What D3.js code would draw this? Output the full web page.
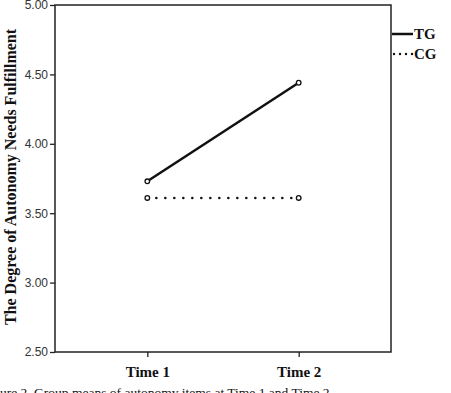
<!DOCTYPE html>
<html>
<head>
<meta charset="utf-8">
<script src="https://cdn.jsdelivr.net/npm/d3@7"></script>
<style>
  body { margin: 0; background: #fff; }
  svg { display: block; }
</style>
</head>
<body>
<div id="chart"></div>
<script>
// group means
var times = ["Time 1", "Time 2"];
var groups = ["TG", "CG"];
var tgMeans = [3.73, 4.44];
var cgMeans = [3.61, 3.61];
var yTicks = [2.5, 3.0, 3.5, 4.0, 4.5, 5.0];

var width = 451, height = 393;
var margin = {top: 5, right: 60, bottom: 42, left: 55};

var svg = d3.select("#chart").append("svg")
    .attr("width", width)
    .attr("height", height);

var x = d3.scalePoint()
    .domain(times)
    .range([margin.left, width - margin.right])
    .padding(0.61);

var y = d3.scaleLinear()
    .domain([2.5, 5.0])
    .range([height - margin.bottom + 1, margin.top]);

// frame
svg.append("rect")
    .attr("x", margin.left)
    .attr("y", y(5))
    .attr("width", width - margin.right - margin.left)
    .attr("height", y(2.5) - y(5))
    .attr("fill", "none")
    .attr("stroke", "#222")
    .attr("stroke-width", 1.5);

var yAxis = svg.append("g")
    .attr("transform", "translate(" + margin.left + ",0)")
    .call(d3.axisLeft(y).tickValues(yTicks).tickFormat(d3.format(".2f")).tickSize(5).tickSizeOuter(0));
yAxis.select(".domain").remove();
yAxis.selectAll("line").attr("stroke", "#222").attr("stroke-width", 1.3);
yAxis.selectAll("text")
    .attr("font-family", "Liberation Sans, Arial, sans-serif")
    .attr("font-size", 12)
    .attr("fill", "#333")
    .attr("dx", 1);

var xAxis = svg.append("g")
    .attr("transform", "translate(0," + y(2.5) + ")")
    .call(d3.axisBottom(x).tickSize(5).tickSizeOuter(0));
xAxis.select(".domain").remove();
xAxis.selectAll("line").attr("stroke", "#222").attr("stroke-width", 1.3);
xAxis.selectAll("text")
    .attr("font-family", "Liberation Serif, Times New Roman, serif")
    .attr("font-weight", "bold")
    .attr("font-size", 15)
    .attr("fill", "#111")
    .attr("dy", "1.1em");

// y title
svg.append("text")
    .attr("transform", "translate(16," + 177 + ") rotate(-90)")
    .attr("text-anchor", "middle")
    .attr("font-family", "Liberation Serif, Times New Roman, serif")
    .attr("font-weight", "bold")
    .attr("font-size", 16)
    .attr("fill", "#111")
    .text("The Degree of Autonomy Needs Fulfillment");

var line = d3.line()
    .x(function(d, i) { return x(times[i]); })
    .y(function(d) { return y(d); });

svg.append("path")
    .datum(tgMeans)
    .attr("d", line)
    .attr("fill", "none")
    .attr("stroke", "#111")
    .attr("stroke-width", 2.5);

svg.append("path")
    .datum(cgMeans)
    .attr("d", line)
    .attr("fill", "none")
    .attr("stroke", "#111")
    .attr("stroke-width", 2.6)
    .attr("stroke-linecap", "round")
    .attr("stroke-dasharray", "0,9");

[tgMeans, cgMeans].forEach(function(series) {
  svg.append("g").selectAll("circle")
    .data(series)
    .enter().append("circle")
      .attr("cx", function(d, i) { return x(times[i]); })
      .attr("cy", function(d) { return y(d); })
      .attr("r", 2.3)
      .attr("fill", "#fff")
      .attr("stroke", "#111")
      .attr("stroke-width", 1.3);
});

// legend
var lx = width - margin.right;
var legend = svg.append("g").selectAll("g")
    .data(groups)
    .enter().append("g")
    .attr("transform", function(d, i) { return "translate(" + lx + "," + (34 + i * 20) + ")"; });

legend.append("line")
    .attr("x1", 1).attr("x2", 22)
    .attr("stroke", "#111")
    .attr("stroke-width", function(d, i) { return i == 0 ? 2.5 : 2.4; })
    .attr("stroke-linecap", function(d, i) { return i == 0 ? "butt" : "round"; })
    .attr("stroke-dasharray", function(d, i) { return i == 0 ? null : "0,6"; })
    .attr("transform", function(d, i) { return i == 0 ? null : "translate(2,0)"; });

legend.append("text")
    .attr("x", 23)
    .attr("dy", "0.35em")
    .attr("font-family", "Liberation Serif, Times New Roman, serif")
    .attr("font-weight", "bold")
    .attr("font-size", 15)
    .attr("fill", "#111")
    .text(function(d) { return d; });

// caption, cut off by the page edge
svg.append("text")
    .attr("x", -18)
    .attr("y", 397)
    .attr("font-family", "Liberation Serif, Times New Roman, serif")
    .attr("font-size", 13.5)
    .attr("fill", "#111")
    .text("Figure 2. Group means of autonomy items at Time 1 and Time 2");
</script>
</body>
</html>
